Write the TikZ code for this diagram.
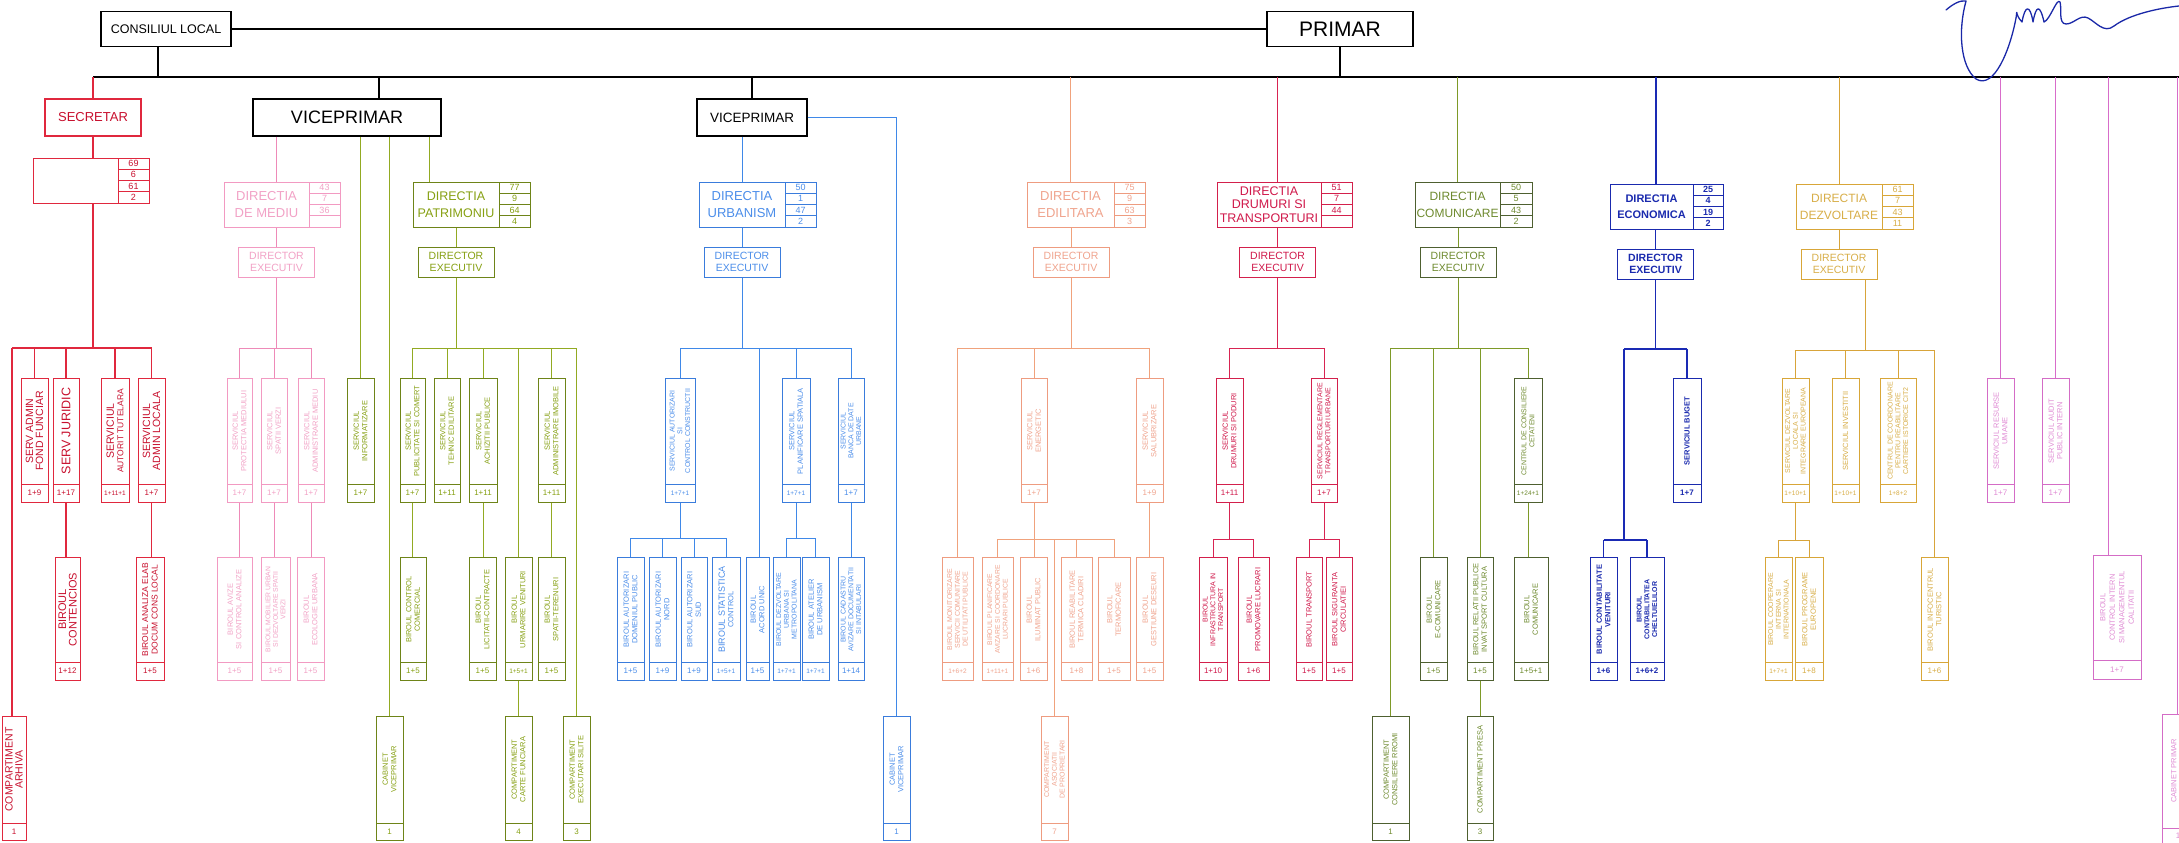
\documentclass[tikz,border=0pt]{standalone}
\usepackage{fontspec}
\setmainfont{Liberation Sans}
\definecolor{secB}{HTML}{E0283E}\definecolor{secT}{HTML}{C8102E}\definecolor{secL}{HTML}{E0283E}
\definecolor{medB}{HTML}{F29AC2}\definecolor{medT}{HTML}{F2A2C6}\definecolor{medL}{HTML}{EE8AB8}
\definecolor{patB}{HTML}{6E8418}\definecolor{patT}{HTML}{86A012}\definecolor{patL}{HTML}{92AA22}
\definecolor{urbB}{HTML}{3A7CDC}\definecolor{urbT}{HTML}{4C8EEA}\definecolor{urbL}{HTML}{3F88E8}
\definecolor{ediB}{HTML}{EE9C80}\definecolor{ediT}{HTML}{F0A48E}\definecolor{ediL}{HTML}{F0A27C}
\definecolor{druB}{HTML}{D3204C}\definecolor{druT}{HTML}{D0184A}\definecolor{druL}{HTML}{D82452}
\definecolor{comB}{HTML}{4E6030}\definecolor{comT}{HTML}{6E8A2E}\definecolor{comL}{HTML}{7E9A28}
\definecolor{ecoB}{HTML}{1A2AAE}\definecolor{ecoT}{HTML}{1A2AAE}\definecolor{ecoL}{HTML}{1A2AB4}
\definecolor{dezB}{HTML}{D8A638}\definecolor{dezT}{HTML}{D8AE48}\definecolor{dezL}{HTML}{D8A43A}
\definecolor{magB}{HTML}{D46CC6}\definecolor{magT}{HTML}{E08CD4}\definecolor{magL}{HTML}{D86CCA}
\definecolor{sigC}{HTML}{1A28A8}
\def\yAt{378}\def\yAd{484}\def\yAb{502}
\def\yBt{557}\def\yBd{662}\def\yBb{680}
\def\yCt{716}\def\yCd{823}\def\yCb{840}
\def\yRt{555}\def\yRd{660}\def\yRb{679}
\def\yPt{714}\def\yPd{828}\def\yPb{843}
\newcommand\smn[1]{{\fontsize{6.5}{7}\selectfont #1}}
% [font] name x1 x2 level group text number
\newcommand\orgunit[8][]{%
  \pgfmathsetmacro\ucx{(#3+#4)/2}%
  \pgfmathsetmacro\ucw{#4-#3}%
  \edef\uyt{\csname y#5t\endcsname}\edef\uyd{\csname y#5d\endcsname}\edef\uyb{\csname y#5b\endcsname}%
  \pgfmathsetmacro\uch{\uyb-\uyt}%
  \pgfmathsetmacro\ucy{(\uyt+\uyb)/2}%
  \pgfmathsetmacro\uty{(\uyt+\uyd)/2}%
  \pgfmathsetmacro\uny{(\uyd+\uyb)/2}%
  \node[unit,#6,minimum width=\ucw pt,minimum height=\uch pt] (#2) at (\ucx,\ucy) {};
  \draw[unitline,#6] (#3,\uyd) -- (#4,\uyd);
  \node[utext,#6,draw=none,rotate=90,#1] (#2-t) at (\ucx,\uty) {#7};
  \node[unum,#6,draw=none] (#2-n) at (\ucx,\uny) {#8};
}
% [font] name x1 x2 x3 ytop group text numbers
\newcommand\orgdir[9][]{%
  \pgfmathsetmacro\dcx{(#3+#4)/2}%
  \pgfmathsetmacro\dcw{#4-#3}%
  \pgfmathsetmacro\dcy{#6+22.5}%
  \pgfmathsetmacro\ncx{(#4+#5)/2}%
  \pgfmathsetmacro\ncw{#5-#4}%
  \node[dirb,#7,minimum width=\dcw pt,minimum height=45pt,#1] (#2) at (\dcx,\dcy) {#8};
  \foreach \v [count=\i] in {#9} {
    \pgfmathsetmacro\ry{#6+(\i-0.5)*11.25}
    \node[numc,#7,minimum width=\ncw pt,minimum height=11.25pt] (#2-\i) at (\ncx,\ry) {\v};
  }
}
% [font] name cx ytop group
\newcommand\orgexec[5][]{\node[dexecb,#5,#1] (#2) at ({#3},{#4+15}) {DIRECTOR\\EXECUTIV};}
\begin{document}
\begin{tikzpicture}[x=1pt,y=-1pt,
 blk/.style={draw=black,line width=1.5pt},
 blkthin/.style={draw=black,line width=1.2pt},
 topb/.style={draw=black,line width=1.3pt,inner sep=0,text=black},
 unit/.style={draw,inner sep=0,line width=1pt},
 unitline/.style={line width=1pt},
 utext/.style={inner sep=0,align=center,font=\fontsize{7.5}{8.5}\selectfont},
 f3/.style={font=\fontsize{7}{7.8}\selectfont},
 unum/.style={inner sep=0,font=\fontsize{8}{8}\selectfont},
 dirb/.style={draw,inner sep=0,align=center,line width=1pt,font=\fontsize{13}{17}\selectfont},
 numc/.style={draw,inner sep=0,line width=0.9pt,font=\fontsize{9}{9}\selectfont},
 dexecb/.style={draw,inner sep=0,align=center,line width=1pt,minimum width=76pt,minimum height=30pt,font=\fontsize{10.5}{12}\selectfont},
 gsec/.style={draw=secB,text=secT}, gsecl/.style={draw=secL,line width=1.1pt},
 gmed/.style={draw=medB,text=medT}, gmedl/.style={draw=medL,line width=1pt},
 gpat/.style={draw=patB,text=patT}, gpatl/.style={draw=patL,line width=1pt},
 gurb/.style={draw=urbB,text=urbT}, gurbl/.style={draw=urbL,line width=1pt},
 gedi/.style={draw=ediB,text=ediT}, gedil/.style={draw=ediL,line width=1pt},
 gdru/.style={draw=druB,text=druT}, gdrul/.style={draw=druL,line width=1pt},
 gcom/.style={draw=comB,text=comT}, gcoml/.style={draw=comL,line width=1pt},
 geco/.style={draw=ecoB,text=ecoT}, gecol/.style={draw=ecoL,line width=1.2pt},
 gdez/.style={draw=dezB,text=dezT}, gdezl/.style={draw=dezL,line width=1pt},
 gmag/.style={draw=magB,text=magT}, gmagl/.style={draw=magL,line width=1pt},
 sig/.style={draw=sigC,line width=1.3pt,line cap=round,line join=round},
 ecobold/.style={font=\bfseries\fontsize{7.5}{8.5}\selectfont},
 ecobold3/.style={font=\bfseries\fontsize{7}{7.8}\selectfont}]
\useasboundingbox (0,0) rectangle (2179,843);
\fill[white] (0,0) rectangle (2179,843);

% ---------- top ----------
\node[topb,minimum width=130pt,minimum height=35pt,font=\fontsize{12.5}{14}\selectfont] (cl) at (166,29) {CONSILIUL LOCAL};
\node[topb,minimum width=146pt,minimum height=35pt,font=\fontsize{21}{24}\selectfont] (primar) at (1340,29) {PRIMAR};
\draw[blk] (cl.east) -- (primar.west);
\coordinate (busL) at (93,77);
\coordinate (busR) at (2179,77);
\draw[blk] (busL) -- (busR);
\draw[blk] (cl.south -| 158,0) -- (158,77);
\draw[blk] (primar.south) -- (primar.south |- busL);

% signature
\draw[sig] (1946,10) .. controls (1953,4) and (1960,0) .. (1966,1)
  .. controls (1958,30) and (1960,66) .. (1976,79)
  .. controls (1994,90) and (2010,50) .. (2016,18)
  .. controls (2018,6) and (2014,14) .. (2022,22)
  .. controls (2025,5) and (2030,4) .. (2033,22)
  .. controls (2036,5) and (2040,4) .. (2044,22)
  .. controls (2050,20) and (2057,-3) .. (2060,2)
  .. controls (2062,8) and (2058,24) .. (2066,24)
  .. controls (2074,24) and (2080,14) .. (2088,18)
  .. controls (2096,22) and (2104,34) .. (2114,26)
  .. controls (2130,14) and (2160,8) .. (2179,6);

% ---------- SECRETAR ----------
\node[topb,draw=secB,text=secT,minimum width=96pt,minimum height=37pt,font=\fontsize{13}{14}\selectfont] (secretar) at (93,117.5) {SECRETAR};
\draw[gsecl] (secretar.north) -- (secretar.north |- busL);
\orgdir{secdir}{33}{118}{149}{158}{gsec}{}{69,6,61,2}
\draw[gsecl] (secretar.south) -- (secretar.south |- secdir.north);
\draw[gsecl] (secretar.south |- secdir.south) -- (93,348);
\draw[gsecl] (12,348) -- (151.5,348);
\orgunit[font=\fontsize{10.5}{10}\selectfont]{fondf}{21}{48}{A}{gsec}{SERV ADMIN\\FOND FUNCIAR}{1+9}
\orgunit[font=\fontsize{12.5}{12}\selectfont]{juridic}{53}{79}{A}{gsec}{SERV JURIDIC}{1+17}
\orgunit[font=\fontsize{10.5}{9.5}\selectfont]{tutel}{101}{129}{A}{gsec}{SERVICIUL\\\fontsize{8.5}{9}\selectfont AUTORIT TUTELARA}{\smn{1+11+1}}
\orgunit[font=\fontsize{10.5}{10}\selectfont]{adminl}{138}{165}{A}{gsec}{SERVICIUL\\ADMIN LOCALA}{1+7}
\orgunit[font=\fontsize{11}{10.5}\selectfont]{contenc}{55}{80}{B}{gsec}{BIROUL\\CONTENCIOS}{1+12}
\orgunit[font=\fontsize{8.5}{9.5}\selectfont]{analiza}{136}{164}{B}{gsec}{BIROUL ANALIZA ELAB\\DOCUM CONS LOCAL}{1+5}
\orgunit[font=\fontsize{10.5}{10}\selectfont]{arhiva}{2}{26}{C}{gsec}{COMPARTIMENT\\ARHIVA}{1}
\draw[gsecl] (12,348) -- (arhiva.north -| 12,0);
\foreach \n in {fondf,juridic,tutel,adminl} \draw[gsecl] (\n.north) -- (\n.north |- 0,348);
\draw[gsecl] (juridic.south) -- (juridic.south |- contenc.north);
\draw[gsecl] (adminl.south) -- (adminl.south |- analiza.north);

% ---------- VICEPRIMAR 1 ----------
\node[topb,minimum width=188pt,minimum height=37pt,font=\fontsize{18}{20}\selectfont] (vp1) at (347,117.5) {VICEPRIMAR};
\draw[blkthin] (vp1.north -| 379,0) -- (379,77);
% Directia de mediu
\orgdir{mediu}{224}{309}{340}{182}{gmed}{DIRECTIA\\DE MEDIU}{43,7,36,\mbox{}}
\draw[gmedl] (vp1.south -| 276,0) -- (mediu.north -| 276,0);
\orgexec{dem}{276.5}{247}{gmed}
\draw[gmedl] (dem.north) -- (dem.north |- mediu.south);
\draw[gmedl] (dem.south) -- (dem.south |- 0,348);
\draw[gmedl] (239.5,348) -- (311,348);
\orgunit{m1}{227}{252}{A}{gmed}{SERVICIUL\\PROTECTIA MEDIULUI}{1+7}
\orgunit{m2}{261}{287}{A}{gmed}{SERVICIUL\\SPATII VERZI}{1+7}
\orgunit{m3}{298}{324}{A}{gmed}{SERVICIUL\\ADMINISTRARE MEDIU}{1+7}
\orgunit{mb1}{217}{252}{B}{gmed}{BIROUL AVIZE\\SI CONTROL ANALIZE}{1+5}
\orgunit[font=\fontsize{6.8}{7.6}\selectfont]{mb2}{261}{290}{B}{gmed}{BIROUL MOBILIER URBAN\\SI DEZVOLTARE SPATII\\VERZI}{1+5}
\orgunit{mb3}{297}{324}{B}{gmed}{BIROUL\\ECOLOGIE URBANA}{1+5}
\foreach \n in {m1,m2,m3} \draw[gmedl] (\n.north) -- (\n.north |- 0,348);
\draw[gmedl] (m1.south) -- (m1.south |- mb1.north);
\draw[gmedl] (m2.south) -- (m2.south |- mb2.north);
\draw[gmedl] (m3.south) -- (m3.south |- mb3.north);
% informatizare, cabinet
\orgunit{inform}{347}{374}{A}{gpat}{SERVICIUL\\INFORMATIZARE}{1+7}
\orgunit{cabvp1}{376}{403}{C}{gpat}{CABINET\\VICEPRIMAR}{1}
\draw[gpatl] (vp1.south -| inform.north) -- (inform.north);
\draw[gpatl] (vp1.south -| cabvp1.north) -- (cabvp1.north);
% Directia patrimoniu
\orgdir[font=\fontsize{12.5}{17}\selectfont]{patr}{413}{499}{530}{182}{gpat}{DIRECTIA\\PATRIMONIU}{77,9,64,4}
\draw[gpatl] (vp1.south -| 429,0) -- (patr.north -| 429,0);
\orgexec{dep}{456}{247}{gpat}
\draw[gpatl] (dep.north) -- (dep.north |- patr.south);
\draw[gpatl] (dep.south) -- (dep.south |- 0,348);
\draw[gpatl] (412.5,348) -- (576.5,348);
\orgunit{p1}{400}{425}{A}{gpat}{SERVICIUL\\PUBLICITATE SI COMERT}{1+7}
\orgunit{p2}{434}{460}{A}{gpat}{SERVICIUL\\TEHNIC EDILITARE}{1+11}
\orgunit{p3}{469}{497}{A}{gpat}{SERVICIUL\\ACHIZITII PUBLICE}{1+11}
\orgunit{p4}{538}{565}{A}{gpat}{SERVICIUL\\ADMINISTRARE IMOBILE}{1+11}
\orgunit{pb1}{400}{426}{B}{gpat}{BIROUL CONTROL\\COMERCIAL}{1+5}
\orgunit{pb3}{469}{496}{B}{gpat}{BIROUL\\LICITATII-CONTRACTE}{1+5}
\orgunit{pb4}{505}{532}{B}{gpat}{BIROUL\\URMARIRE VENITURI}{\smn{1+5+1}}
\orgunit{pb5}{538}{565}{B}{gpat}{BIROUL\\SPATII-TERENURI}{1+5}
\orgunit{pc1}{505}{532}{C}{gpat}{COMPARTIMENT\\CARTE FUNCIARA}{4}
\orgunit{pc2}{563}{590}{C}{gpat}{COMPARTIMENT\\EXECUTARI SILITE}{3}
\foreach \n in {p1,p2,p3,p4,pb4,pc2} \draw[gpatl] (\n.north) -- (\n.north |- 0,348);
\draw[gpatl] (p1.south) -- (p1.south |- pb1.north);
\draw[gpatl] (p3.south) -- (p3.south |- pb3.north);
\draw[gpatl] (p4.south) -- (p4.south |- pb5.north);
\draw[gpatl] (pb4.south) -- (pb4.south |- pc1.north);

% ---------- VICEPRIMAR 2 ----------
\node[topb,minimum width=110pt,minimum height=37pt,font=\fontsize{13.5}{15}\selectfont] (vp2) at (752,117.5) {VICEPRIMAR};
\draw[blkthin] (vp2.north) -- (vp2.north |- busL);
\orgunit{cabvp2}{883}{910}{C}{gurb}{CABINET\\VICEPRIMAR}{1}
\draw[gurbl] (vp2.east) -- (vp2.east -| cabvp2.north) -- (cabvp2.north);
\orgdir{urb}{699}{785}{816}{182}{gurb}{DIRECTIA\\URBANISM}{50,1,47,2}
\draw[gurbl] (vp2.south -| urb.north) -- (urb.north);
\orgexec{deu}{742}{247}{gurb}
\draw[gurbl] (deu.north) -- (deu.north |- urb.south);
\draw[gurbl] (deu.south) -- (deu.south |- 0,348);
\draw[gurbl] (680,348) -- (851,348);
\orgunit[f3]{u1}{665}{695}{A}{gurb}{SERVICIUL AUTORIZARI\\SI\\CONTROL CONSTRUCTII}{\smn{1+7+1}}
\orgunit{u2}{782}{810}{A}{gurb}{SERVICIUL\\PLANIFICARE SPATIALA}{\smn{1+7+1}}
\orgunit[f3]{u3}{838}{864}{A}{gurb}{SERVICIUL\\BANCA DE DATE\\URBANE}{1+7}
\orgunit{ub1}{617}{644}{B}{gurb}{BIROUL AUTORIZARI\\DOMENIUL PUBLIC}{1+5}
\orgunit{ub2}{649}{676}{B}{gurb}{BIROUL AUTORIZARI\\NORD}{1+9}
\orgunit{ub3}{681}{707}{B}{gurb}{BIROUL AUTORIZARI\\SUD}{1+9}
\orgunit{ub4}{712}{740}{B}{gurb}{\fontsize{9}{9.5}\selectfont BIROUL STATISTICA\\CONTROL}{\smn{1+5+1}}
\orgunit{ub5}{746}{769}{B}{gurb}{BIROUL\\ACORD UNIC}{1+5}
\orgunit[f3]{ub6}{773}{800}{B}{gurb}{BIROUL DEZVOLTARE\\URBANA SI\\METROPOLITANA}{\smn{1+7+1}}
\orgunit{ub7}{802}{829}{B}{gurb}{BIROUL ATELIER\\DE URBANISM}{\smn{1+7+1}}
\orgunit[f3]{ub8}{838}{864}{B}{gurb}{BIROUL CADASTRU\\AVIZARE DOCUMENTATII\\SI INTABULARI}{1+14}
\foreach \n in {u1,u2,u3} \draw[gurbl] (\n.north) -- (\n.north |- 0,348);
\draw[gurbl] (759,348) -- (ub5.north -| 759,0);
\draw[gurbl] (u1.south) -- (u1.south |- 0,538);
\draw[gurbl] (630.5,538) -- (726,538);
\foreach \n in {ub1,ub2,ub3,ub4} \draw[gurbl] (\n.north) -- (\n.north |- 0,538);
\draw[gurbl] (u2.south) -- (u2.south |- 0,538);
\draw[gurbl] (786.5,538) -- (815.5,538);
\foreach \n in {ub6,ub7} \draw[gurbl] (\n.north) -- (\n.north |- 0,538);
\draw[gurbl] (u3.south) -- (u3.south |- ub8.north);

% ---------- EDILITARA ----------
\orgdir{edil}{1027}{1114}{1145}{182}{gedi}{DIRECTIA\\EDILITARA}{75,9,63,3}
\draw[gedil] (edil.north) -- (edil.north |- busL);
\orgexec{dee}{1071}{247}{gedi}
\draw[gedil] (dee.north) -- (dee.north |- edil.south);
\draw[gedil] (dee.south) -- (dee.south |- 0,348);
\draw[gedil] (957.5,348) -- (1149.5,348);
\orgunit{e1}{1021}{1047}{A}{gedi}{SERVICIUL\\ENERGETIC}{1+7}
\orgunit{e2}{1136}{1163}{A}{gedi}{SERVICIUL\\SALUBRIZARE}{1+9}
\orgunit[f3]{eb1}{942}{973}{B}{gedi}{BIROUL MONITORIZARE\\SERVICII COMUNITARE\\DE UTILITATI PUBLICE}{\smn{1+6+2}}
\orgunit[font=\fontsize{6.8}{7.8}\selectfont]{eb2}{982}{1013}{B}{gedi}{BIROUL PLANIFICARE\\AVIZARE SI COORDONARE\\LUCRARI PUBLICE}{\smn{1+11+1}}
\orgunit{eb3}{1020}{1047}{B}{gedi}{BIROUL\\ILUMINAT PUBLIC}{1+6}
\orgunit{eb4}{1061}{1092}{B}{gedi}{BIROUL REABILITARE\\TERMICA CLADIRI}{1+8}
\orgunit{eb5}{1098}{1130}{B}{gedi}{BIROUL\\TERMOFICARE}{1+5}
\orgunit{eb6}{1136}{1163}{B}{gedi}{BIROUL\\GESTIUNE DESEURI}{1+5}
\orgunit[f3]{ec1}{1041}{1068}{C}{gedi}{COMPARTIMENT\\ASOCIATII\\DE PROPRIETARI}{7}
\foreach \n in {e1,e2,eb1} \draw[gedil] (\n.north) -- (\n.north |- 0,348);
\draw[gedil] (e1.south) -- (e1.south |- eb3.north);
\draw[gedil] (997.5,539) -- (1114,539);
\foreach \n in {eb2,eb4,eb5,ec1} \draw[gedil] (\n.north) -- (\n.north |- 0,539);
\draw[gedil] (e2.south) -- (e2.south |- eb6.north);

% ---------- DRUMURI ----------
\orgdir[font=\fontsize{12.5}{13.5}\selectfont]{drum}{1217}{1321}{1352}{182}{gdru}{DIRECTIA\\DRUMURI SI\\TRANSPORTURI}{51,7,44,\mbox{}}
\draw[gdrul] (drum.north -| 1277,0) -- (1277,77);
\orgexec{ded}{1277.5}{247}{gdru}
\draw[gdrul] (ded.north) -- (ded.north |- drum.south);
\draw[gdrul] (ded.south) -- (ded.south |- 0,348);
\draw[gdrul] (1229.5,348) -- (1324,348);
\orgunit{d1}{1216}{1243}{A}{gdru}{SERVICIUL\\DRUMURI SI PODURI}{1+11}
\orgunit[font=\fontsize{7}{8}\selectfont]{d2}{1311}{1337}{A}{gdru}{SERVICIUL REGLEMENTARE\\TRANSPORTURI URBANE}{1+7}
\orgunit[f3]{db1}{1199}{1227}{B}{gdru}{BIROUL\\INFRASTRUCTURA IN\\TRANSPORT}{1+10}
\orgunit{db2}{1238}{1269}{B}{gdru}{BIROUL\\PROMOVARE LUCRARI}{1+6}
\orgunit{db3}{1296}{1322}{B}{gdru}{BIROUL TRANSPORT}{1+5}
\orgunit{db4}{1326}{1352}{B}{gdru}{BIROUL SIGURANTA\\CIRCULATIEI}{1+5}
\foreach \n in {d1,d2} \draw[gdrul] (\n.north) -- (\n.north |- 0,348);
\draw[gdrul] (d1.south) -- (d1.south |- 0,539);
\draw[gdrul] (1213,539) -- (1253.5,539);
\draw[gdrul] (d2.south) -- (d2.south |- 0,539);
\draw[gdrul] (1309,539) -- (1339,539);
\foreach \n in {db1,db2,db3,db4} \draw[gdrul] (\n.north) -- (\n.north |- 0,539);

% ---------- COMUNICARE ----------
\orgdir[font=\fontsize{12}{17}\selectfont]{com}{1415}{1500}{1532}{182}{gcom}{DIRECTIA\\COMUNICARE}{50,5,43,2}
\draw[gcoml] (com.north) -- (com.north |- busL);
\orgexec{dec}{1458}{247}{gcom}
\draw[gcoml] (dec.north) -- (dec.north |- com.south);
\draw[gcoml] (dec.south) -- (dec.south |- 0,348);
\draw[gcoml] (1390.5,348) -- (1528,348);
\orgunit{cc1}{1372}{1409}{C}{gcom}{COMPARTIMENT\\CONSILIERE RROMI}{1}
\orgunit{cb1}{1420}{1447}{B}{gcom}{BIROUL\\E-COMUNICARE}{1+5}
\orgunit{cb2}{1467}{1493}{B}{gcom}{BIROUL RELATII PUBLICE\\INVAT SPORT CULTURA}{1+5}
\orgunit{cc2}{1467}{1493}{C}{gcom}{COMPARTIMENT PRESA}{3}
\orgunit[font=\fontsize{7}{8}\selectfont]{c1}{1514}{1542}{A}{gcom}{CENTRUL DE CONSILIERE\\CETATENI}{\smn{1+24+1}}
\orgunit{cb3}{1514}{1548}{B}{gcom}{BIROUL\\COMUNICARE}{1+5+1}
\foreach \n in {cc1,cb1,cb2,c1} \draw[gcoml] (\n.north) -- (\n.north |- 0,348);
\draw[gcoml] (cb2.south) -- (cb2.south |- cc2.north);
\draw[gcoml] (c1.south) -- (c1.south |- cb3.north);

% ---------- ECONOMICA ----------
\orgdir[font=\bfseries\fontsize{11}{16}\selectfont]{eco}{1610}{1693}{1723}{184}{geco}{DIRECTIA\\ECONOMICA}{\bfseries 25,\bfseries 4,\bfseries 19,\bfseries 2}
\draw[gecol] (eco.north -| 1656,0) -- (1656,77);
\orgexec[font=\bfseries\fontsize{10.5}{12}\selectfont]{dex}{1655.5}{249}{geco}
\draw[gecol] (dex.north) -- (dex.north |- eco.south);
\draw[gecol] (dex.south) -- (dex.south |- 0,349);
\draw[gecol] (1624,349) -- (1687,349);
\orgunit[ecobold]{ea1}{1673}{1701}{A}{geco}{SERVICIUL BUGET}{\bfseries 1+7}
\orgunit[ecobold]{ecb1}{1590}{1617}{B}{geco}{BIROUL CONTABILITATE\\VENITURI}{\bfseries 1+6}
\orgunit[ecobold3]{ecb2}{1630}{1664}{B}{geco}{BIROUL\\CONTABILITATEA\\CHELTUIELILOR}{\bfseries 1+6+2}
\draw[gecol] (ea1.north) -- (ea1.north |- 0,349);
\draw[gecol] (1624,349) -- (1624,540);
\draw[gecol] (1603.5,540) -- (1647,540);
\foreach \n in {ecb1,ecb2} \draw[gecol] (\n.north) -- (\n.north |- 0,540);

% ---------- DEZVOLTARE ----------
\orgdir[font=\fontsize{12}{17}\selectfont]{dez}{1796}{1882}{1913}{184}{gdez}{DIRECTIA\\DEZVOLTARE}{61,7,43,11}
\draw[gdezl] (dez.north) -- (dez.north |- busL);
\orgexec{dezde}{1839}{249}{gdez}
\draw[gdezl] (dezde.north) -- (dezde.north |- dez.south);
\draw[gdezl] (dezde.south -| 1865,0) -- (1865,350);
\draw[gdezl] (1795.5,350) -- (1934.5,350);
\orgunit[f3]{z1}{1782}{1809}{A}{gdez}{SERVICIUL DEZVOLTARE\\LOCALA SI\\INTEGRARE EUROPEANA}{\smn{1+10+1}}
\orgunit{z2}{1832}{1859}{A}{gdez}{SERVICIUL INVESTITII}{\smn{1+10+1}}
\orgunit[f3]{z3}{1880}{1916}{A}{gdez}{CENTRUL DE COORDONARE\\PENTRU REABILITARE\\CARTIERE ISTORICE CIT2}{\smn{1+8+2}}
\orgunit{zb4}{1921}{1948}{B}{gdez}{BIROUL INFOCENTRUL\\TURISTIC}{1+6}
\orgunit[f3]{zb1}{1765}{1792}{B}{gdez}{BIROUL COOPERARE\\INTERNA SI\\INTERNATIONALA}{\smn{1+7+1}}
\orgunit{zb2}{1795}{1823}{B}{gdez}{BIROUL PROGRAME\\EUROPENE}{1+8}
\foreach \n in {z1,z2,z3,zb4} \draw[gdezl] (\n.north) -- (\n.north |- 0,350);
\draw[gdezl] (z1.south) -- (z1.south |- 0,540);
\draw[gdezl] (1778.5,540) -- (1809,540);
\foreach \n in {zb1,zb2} \draw[gdezl] (\n.north) -- (\n.north |- 0,540);

% ---------- PRIMAR direct units ----------
\orgunit{r1}{1987}{2014}{A}{gmag}{SERVICIUL RESURSE\\UMANE}{1+7}
\orgunit{r2}{2042}{2069}{A}{gmag}{SERVICIUL AUDIT\\PUBLIC INTERN}{1+7}
\orgunit[font=\fontsize{7.5}{9.5}\selectfont]{r3}{2093}{2141}{R}{gmag}{BIROUL\\CONTROL INTERN\\SI MANAGEMENTUL\\CALITATII}{1+7}
\orgunit{r4}{2162}{2194}{P}{gmag}{CABINET PRIMAR\\\mbox{}}{1}
\foreach \n in {r1,r2} \draw[gmagl] (\n.north) -- (\n.north |- busL);
\draw[gmagl] (r3.north -| 2108,0) -- (2108,77);
\draw[gmagl] (r4.north -| 2177,0) -- (2177,77);
\end{tikzpicture}
\end{document}
